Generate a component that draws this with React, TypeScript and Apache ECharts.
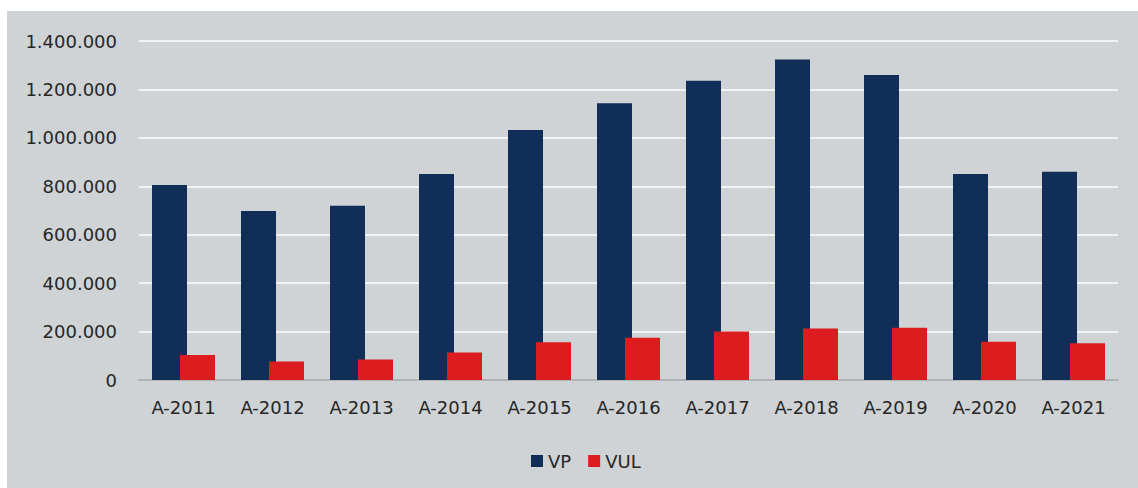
import React, { useEffect, useRef } from "react";
import * as echarts from "echarts";

const categories = ["A-2011", "A-2012", "A-2013", "A-2014", "A-2015", "A-2016", "A-2017", "A-2018", "A-2019", "A-2020", "A-2021"];
const vpValues = [805000, 698000, 720000, 851000, 1032000, 1143000, 1236000, 1324000, 1260000, 851000, 860000];
const vulValues = [103000, 76000, 85000, 114000, 156000, 175000, 200000, 213000, 216000, 158000, 152000];
const yTicks = { min: 0, max: 1400000, interval: 200000 };

const fmt = (v: number) => String(v).replace(/\B(?=(\d{3})+(?!\d))/g, ".");

export default function App() {
  const ref = useRef<HTMLDivElement>(null);
  useEffect(() => {
    if (!ref.current) return;
    const chart = echarts.init(ref.current, undefined, { renderer: "svg" });
    const font = "DejaVu Sans";
    chart.setOption({
      animation: false,
      backgroundColor: "#cfd3d6",
      grid: { left: 132, right: 20, top: 30, bottom: 108, containLabel: false },
      legend: {
        data: ["VP", "VUL"],
        left: 519,
        top: 436,
        itemWidth: 12,
        itemHeight: 12,
        itemGap: 17,
        icon: "rect",
        textStyle: { fontFamily: font, fontSize: 18, color: "#262626" },
      },
      xAxis: {
        type: "category",
        data: categories,
        axisTick: { show: false },
        axisLine: { lineStyle: { color: "#9a9da0", width: 1.5 } },
        axisLabel: { fontFamily: font, fontSize: 18, color: "#262626", margin: 18 },
      },
      yAxis: {
        type: "value",
        min: yTicks.min,
        max: yTicks.max,
        interval: yTicks.interval,
        axisLine: { show: false },
        axisTick: { show: false },
        splitLine: { lineStyle: { color: "#f2f2f2", width: 2 } },
        axisLabel: {
          fontFamily: font,
          fontSize: 18,
          color: "#262626",
          margin: 22,
          formatter: (v: number) => fmt(v),
        },
      },
      series: [
        { name: "VP", type: "bar", data: vpValues, barWidth: 35, barGap: "-20%", itemStyle: { color: "#102e57" } },
        { name: "VUL", type: "bar", data: vulValues, barWidth: 35, barGap: "-20%", itemStyle: { color: "#dc1c1e" } },
      ],
    });
    return () => chart.dispose();
  }, []);
  return (
    <div style={{ position: "fixed", left: 0, top: 0, width: 1138, height: 488, background: "#ffffff" }}>
      <div ref={ref} style={{ position: "absolute", left: 7, top: 11, width: 1131, height: 477 }} />
    </div>
  );
}
